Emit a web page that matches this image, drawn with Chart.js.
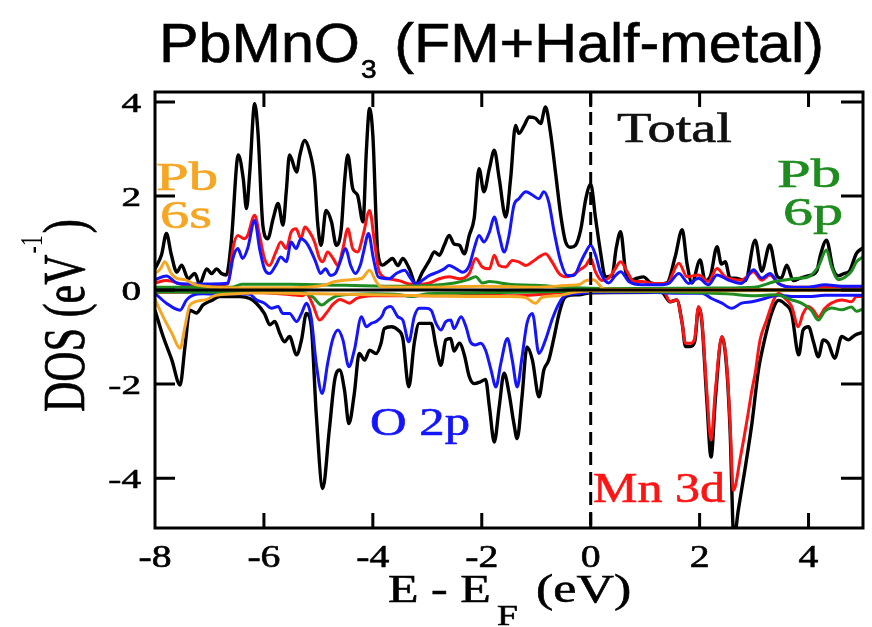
<!DOCTYPE html>
<html><head><meta charset="utf-8">
<script src="https://cdn.jsdelivr.net/npm/chart.js@4.4.1/dist/chart.umd.min.js"></script>
<style>html,body{margin:0;padding:0;background:#fff;}canvas{display:block;}</style>
</head><body>
<canvas id="c" width="872" height="627"></canvas>
<script>
// ---- tick values / labels ----
const xTickValues = [-8,-6,-4,-2,0,2,4];
const yTickValues = [-4,-2,0,2,4];
const xTickLabels = ['-8','-6','-4','-2','0','2','4'];
const yTickLabels = ['-4','-2','0','2','4'];

// ---- series: [E - E_F (eV), DOS (1/eV)] ----
const totalUp = [[-8.00,0.45],[-7.88,0.75],[-7.79,1.20],[-7.70,0.75],[-7.60,0.38],[-7.51,0.53],[-7.39,0.24],[-7.27,0.35],[-7.18,0.13],[-7.05,0.45],[-6.96,0.35],[-6.87,0.45],[-6.78,0.35],[-6.69,0.32],[-6.60,1.02],[-6.47,2.87],[-6.38,2.37],[-6.32,1.73],[-6.26,2.50],[-6.17,3.96],[-6.11,3.36],[-6.02,1.38],[-5.93,1.09],[-5.83,1.52],[-5.74,1.84],[-5.65,1.38],[-5.59,2.09],[-5.53,2.87],[-5.40,2.51],[-5.34,2.87],[-5.25,3.18],[-5.16,2.94],[-5.07,2.37],[-5.01,1.38],[-4.95,0.95],[-4.86,1.69],[-4.76,1.45],[-4.67,0.95],[-4.58,1.30],[-4.52,2.30],[-4.46,2.87],[-4.37,2.16],[-4.28,2.01],[-4.18,1.45],[-4.12,2.94],[-4.06,3.86],[-4.00,3.29],[-3.91,0.81],[-3.82,0.53],[-3.73,0.60],[-3.64,0.67],[-3.54,0.52],[-3.45,0.67],[-3.33,0.45],[-3.21,0.13],[-3.09,0.38],[-2.96,0.63],[-2.87,0.81],[-2.78,0.74],[-2.69,0.95],[-2.60,1.16],[-2.51,0.98],[-2.41,0.95],[-2.32,0.77],[-2.23,1.16],[-2.14,1.52],[-2.05,2.58],[-1.96,2.09],[-1.86,2.58],[-1.77,2.97],[-1.68,2.37],[-1.56,1.55],[-1.47,2.37],[-1.38,3.50],[-1.32,3.33],[-1.22,3.50],[-1.13,3.68],[-1.01,3.65],[-0.92,3.54],[-0.83,3.89],[-0.74,3.36],[-0.64,2.44],[-0.55,1.59],[-0.46,1.02],[-0.37,0.91],[-0.28,0.95],[-0.18,1.30],[-0.09,1.94],[0.00,2.25],[0.09,1.52],[0.18,0.81],[0.27,0.28],[0.39,0.30],[0.47,0.90],[0.55,1.24],[0.64,0.40],[0.72,0.20],[0.85,0.25],[0.97,0.28],[1.10,0.15],[1.25,0.13],[1.40,0.15],[1.55,0.70],[1.68,1.28],[1.77,0.55],[1.86,0.15],[2.01,0.64],[2.10,0.20],[2.20,0.30],[2.32,0.92],[2.40,0.55],[2.47,0.60],[2.56,0.25],[2.65,0.25],[2.84,0.20],[3.02,1.06],[3.14,0.40],[3.29,0.96],[3.42,0.30],[3.50,0.25],[3.60,0.53],[3.72,0.20],[3.85,0.25],[3.99,0.30],[4.15,0.40],[4.22,0.75],[4.33,1.06],[4.45,0.45],[4.55,0.30],[4.65,0.35],[4.75,0.40],[4.88,0.78],[5.00,0.90]];
const totalDn = [[-8.00,-0.43],[-7.85,-0.99],[-7.69,-1.49],[-7.54,-2.02],[-7.45,-1.21],[-7.36,-0.43],[-7.24,-0.49],[-7.12,-0.32],[-6.96,-0.22],[-6.81,-0.14],[-6.63,-0.14],[-6.44,-0.14],[-6.26,-0.18],[-6.14,-0.28],[-5.99,-0.50],[-5.89,-0.74],[-5.80,-0.67],[-5.71,-0.92],[-5.62,-1.10],[-5.53,-0.99],[-5.40,-1.38],[-5.31,-1.06],[-5.22,-0.50],[-5.13,-0.78],[-5.04,-2.62],[-4.92,-4.22],[-4.80,-2.98],[-4.70,-1.91],[-4.61,-1.70],[-4.52,-2.13],[-4.44,-2.84],[-4.34,-2.20],[-4.25,-1.35],[-4.15,-1.49],[-4.06,-1.28],[-3.94,-1.35],[-3.85,-1.13],[-3.79,-0.82],[-3.66,-0.78],[-3.54,-0.85],[-3.45,-1.03],[-3.34,-2.06],[-3.24,-1.13],[-3.15,-0.71],[-3.03,-0.71],[-2.93,-0.71],[-2.84,-1.20],[-2.75,-1.60],[-2.66,-1.06],[-2.57,-1.03],[-2.51,-1.30],[-2.41,-1.13],[-2.32,-1.38],[-2.23,-1.84],[-2.14,-1.99],[-2.02,-1.95],[-1.93,-1.90],[-1.86,-2.48],[-1.77,-3.23],[-1.68,-2.48],[-1.59,-1.77],[-1.50,-2.19],[-1.41,-2.84],[-1.35,-3.16],[-1.26,-2.26],[-1.17,-1.21],[-1.07,-1.49],[-0.95,-2.27],[-0.86,-1.70],[-0.77,-1.49],[-0.67,-0.99],[-0.58,-0.50],[-0.49,-0.18],[-0.37,-0.11],[-0.22,-0.10],[0.00,-0.06],[1.30,-0.05],[1.46,-0.25],[1.58,-0.21],[1.68,-0.71],[1.74,-1.20],[1.83,-1.20],[1.91,-1.10],[1.98,-0.38],[2.04,-0.66],[2.13,-2.30],[2.21,-3.55],[2.29,-2.30],[2.41,-1.00],[2.50,-1.70],[2.56,-3.00],[2.63,-5.30],[2.71,-4.68],[2.84,-3.76],[2.96,-2.84],[3.08,-1.70],[3.15,-1.28],[3.32,-0.50],[3.45,-0.22],[3.57,-0.30],[3.69,-0.50],[3.82,-1.38],[3.90,-0.85],[4.00,-0.78],[4.09,-1.10],[4.18,-1.42],[4.27,-1.06],[4.36,-1.13],[4.48,-1.45],[4.61,-0.99],[4.73,-1.06],[4.85,-0.96],[5.00,-0.90]];
const o2pUp = [[-8.00,0.22],[-7.79,0.30],[-7.60,0.15],[-7.40,0.13],[-7.18,0.13],[-6.96,0.13],[-6.66,0.15],[-6.57,0.67],[-6.48,0.88],[-6.39,0.67],[-6.30,0.88],[-6.17,1.48],[-6.08,0.88],[-5.99,0.45],[-5.90,0.35],[-5.78,0.53],[-5.69,0.70],[-5.59,0.60],[-5.50,1.02],[-5.41,0.88],[-5.32,1.09],[-5.23,1.02],[-5.14,0.84],[-5.05,0.60],[-4.96,0.35],[-4.87,0.45],[-4.78,0.31],[-4.69,0.35],[-4.60,0.60],[-4.50,0.88],[-4.41,0.53],[-4.32,0.35],[-4.23,0.53],[-4.17,0.81],[-4.08,1.20],[-3.99,0.67],[-3.90,0.28],[-3.70,0.24],[-3.57,0.35],[-3.42,0.42],[-3.30,0.24],[-3.21,0.12],[-3.09,0.21],[-2.96,0.31],[-2.81,0.38],[-2.69,0.45],[-2.60,0.52],[-2.47,0.45],[-2.35,0.38],[-2.23,0.52],[-2.14,0.88],[-2.05,1.16],[-1.96,1.02],[-1.86,1.23],[-1.77,1.55],[-1.68,1.16],[-1.59,0.81],[-1.50,1.16],[-1.41,1.80],[-1.32,1.94],[-1.19,2.09],[-1.07,2.02],[-0.95,1.94],[-0.86,2.09],[-0.77,1.87],[-0.67,1.23],[-0.55,0.60],[-0.43,0.31],[-0.31,0.31],[-0.18,0.60],[-0.09,0.81],[0.00,0.95],[0.09,0.74],[0.18,0.38],[0.33,0.15],[0.45,0.30],[0.55,0.39],[0.70,0.18],[0.94,0.11],[1.25,0.11],[1.43,0.14],[1.62,0.35],[1.80,0.14],[1.98,0.25],[2.16,0.11],[2.32,0.32],[2.53,0.21],[2.77,0.14],[2.99,0.43],[3.14,0.25],[3.29,0.35],[3.45,0.14],[3.69,0.06],[4.00,0.06],[4.30,0.11],[4.61,0.08],[5.00,0.08]];
const o2pDn = [[-8.00,-0.07],[-7.79,-0.28],[-7.54,-0.43],[-7.42,-0.21],[-7.30,-0.11],[-7.12,-0.08],[-6.87,-0.09],[-6.50,-0.08],[-6.26,-0.09],[-6.14,-0.21],[-5.99,-0.28],[-5.86,-0.39],[-5.74,-0.35],[-5.65,-0.50],[-5.53,-0.50],[-5.40,-0.67],[-5.31,-0.50],[-5.22,-0.28],[-5.13,-0.60],[-5.04,-1.56],[-4.93,-2.20],[-4.83,-1.56],[-4.74,-1.06],[-4.64,-0.85],[-4.55,-1.06],[-4.44,-1.63],[-4.34,-1.28],[-4.21,-0.57],[-4.12,-0.78],[-4.03,-0.71],[-3.94,-0.67],[-3.82,-0.53],[-3.79,-0.43],[-3.67,-0.35],[-3.54,-0.57],[-3.45,-0.64],[-3.34,-1.10],[-3.24,-0.57],[-3.15,-0.39],[-3.03,-0.39],[-2.93,-0.43],[-2.84,-0.71],[-2.75,-0.85],[-2.66,-0.67],[-2.57,-0.64],[-2.51,-0.82],[-2.38,-0.57],[-2.29,-0.78],[-2.21,-1.10],[-2.12,-1.17],[-2.02,-1.13],[-1.93,-1.28],[-1.83,-1.70],[-1.74,-2.06],[-1.65,-1.56],[-1.53,-1.03],[-1.44,-1.49],[-1.35,-2.06],[-1.26,-1.42],[-1.17,-0.71],[-1.07,-0.50],[-0.95,-1.35],[-0.83,-1.06],[-0.70,-0.60],[-0.58,-0.28],[-0.46,-0.11],[-0.31,-0.08],[-0.18,-0.07],[0.00,-0.05],[1.00,-0.05],[1.60,-0.07],[2.04,-0.07],[2.22,-0.18],[2.41,-0.28],[2.59,-0.39],[2.77,-0.28],[2.96,-0.25],[3.20,-0.18],[3.45,-0.11],[3.75,-0.14],[4.00,-0.14],[4.30,-0.11],[4.61,-0.11],[5.00,-0.11]];
const mn3dUp = [[-8.00,0.15],[-7.79,0.20],[-7.40,0.10],[-6.96,0.10],[-6.66,0.13],[-6.57,0.88],[-6.48,1.16],[-6.36,1.09],[-6.30,1.16],[-6.17,1.59],[-6.08,1.16],[-5.99,0.67],[-5.90,0.52],[-5.78,0.81],[-5.69,1.02],[-5.59,0.88],[-5.50,1.23],[-5.41,1.30],[-5.32,1.09],[-5.25,1.34],[-5.16,1.23],[-5.07,1.02],[-4.98,0.67],[-4.92,0.60],[-4.83,0.81],[-4.73,0.67],[-4.64,0.52],[-4.55,0.88],[-4.46,1.30],[-4.37,0.88],[-4.28,0.81],[-4.18,1.16],[-4.06,1.69],[-3.97,1.02],[-3.88,0.38],[-3.70,0.24],[-3.52,0.20],[-3.33,0.13],[-3.15,0.12],[-2.96,0.15],[-2.78,0.24],[-2.60,0.28],[-2.41,0.24],[-2.23,0.35],[-2.11,0.67],[-1.99,0.49],[-1.86,0.45],[-1.77,0.74],[-1.68,0.52],[-1.56,0.49],[-1.44,0.63],[-1.32,0.60],[-1.19,0.52],[-1.07,0.60],[-0.95,0.70],[-0.83,0.77],[-0.71,0.60],[-0.58,0.35],[-0.46,0.28],[-0.34,0.31],[-0.21,0.42],[-0.09,0.52],[0.00,0.67],[0.09,0.38],[0.21,0.20],[0.33,0.25],[0.45,0.45],[0.55,0.60],[0.67,0.39],[0.79,0.18],[0.94,0.18],[1.13,0.14],[1.40,0.14],[1.62,0.57],[1.77,0.28],[1.98,0.32],[2.16,0.18],[2.32,0.46],[2.47,0.28],[2.77,0.21],[2.99,0.39],[3.14,0.21],[3.29,0.32],[3.45,0.14],[3.75,0.06],[4.50,0.06],[5.00,0.06]];
const mn3dDn = [[-8.00,-0.05],[-7.00,-0.04],[-6.00,-0.06],[-5.50,-0.10],[-5.30,-0.12],[-5.22,-0.08],[-5.10,-0.32],[-4.98,-0.64],[-4.86,-0.50],[-4.73,-0.30],[-4.60,-0.20],[-4.43,-0.28],[-4.30,-0.18],[-4.00,-0.12],[-3.50,-0.12],[-3.00,-0.12],[-2.50,-0.12],[-2.00,-0.10],[-1.50,-0.12],[-1.00,-0.10],[-0.50,-0.05],[0.00,-0.02],[1.20,-0.02],[1.34,-0.03],[1.46,-0.25],[1.58,-0.21],[1.68,-0.71],[1.74,-1.13],[1.83,-1.13],[1.91,-1.03],[1.98,-0.35],[2.04,-0.64],[2.13,-2.13],[2.21,-3.19],[2.29,-2.13],[2.41,-0.99],[2.50,-1.63],[2.56,-2.84],[2.62,-4.26],[2.75,-3.55],[2.87,-2.77],[2.96,-2.13],[3.02,-1.77],[3.11,-1.06],[3.23,-0.64],[3.36,-0.21],[3.45,-0.07],[3.57,-0.18],[3.69,-0.35],[3.81,-0.78],[3.90,-0.50],[4.00,-0.35],[4.09,-0.43],[4.18,-0.57],[4.30,-0.39],[4.42,-0.28],[4.61,-0.21],[4.79,-0.25],[4.88,-0.14],[5.00,-0.14]];
const pb6pUp = [[-8.00,0.06],[-6.60,0.06],[-6.40,0.12],[-5.50,0.12],[-4.50,0.10],[-3.50,0.08],[-2.50,0.15],[-2.25,0.22],[-2.11,0.28],[-1.99,0.15],[-1.86,0.18],[-1.50,0.12],[-1.00,0.10],[-0.50,0.06],[0.00,0.04],[1.00,0.03],[2.00,0.04],[3.00,0.06],[3.38,0.18],[3.60,0.22],[3.82,0.25],[4.00,0.28],[4.18,0.50],[4.33,0.85],[4.42,0.50],[4.55,0.22],[4.67,0.27],[4.79,0.40],[4.88,0.60],[5.00,0.70]];
const pb6pDn = [[-8.00,-0.04],[-5.30,-0.06],[-5.10,-0.15],[-4.94,-0.32],[-4.80,-0.21],[-4.65,-0.12],[-4.00,-0.08],[-3.50,-0.10],[-3.30,-0.14],[-3.00,-0.08],[-2.00,-0.06],[-1.00,-0.04],[0.00,-0.02],[1.00,-0.03],[2.00,-0.06],[2.50,-0.08],[3.00,-0.12],[3.40,-0.10],[3.69,-0.21],[3.87,-0.28],[4.05,-0.43],[4.18,-0.64],[4.30,-0.45],[4.42,-0.38],[4.61,-0.42],[4.79,-0.36],[4.88,-0.45],[5.00,-0.40]];
const pb6sUp = [[-8.00,0.35],[-7.90,0.45],[-7.82,0.60],[-7.70,0.35],[-7.60,0.25],[-7.45,0.22],[-7.27,0.12],[-7.00,0.07],[-6.50,0.05],[-5.50,0.05],[-4.90,0.10],[-4.70,0.18],[-4.40,0.22],[-4.20,0.25],[-4.06,0.42],[-3.95,0.20],[-3.85,0.07],[-3.00,0.06],[-2.00,0.08],[-1.00,0.06],[-0.40,0.10],[-0.20,0.12],[-0.09,0.20],[0.05,0.22],[0.25,0.02],[1.00,0.01],[5.00,0.01]];
const pb6sDn = [[-8.00,-0.20],[-7.85,-0.57],[-7.69,-0.92],[-7.54,-1.24],[-7.45,-0.78],[-7.36,-0.32],[-7.08,-0.21],[-6.90,-0.12],[-6.50,-0.08],[-6.00,-0.06],[-5.00,-0.08],[-4.00,-0.10],[-3.00,-0.12],[-2.00,-0.14],[-1.50,-0.14],[-1.20,-0.16],[-1.01,-0.28],[-0.90,-0.16],[-0.60,-0.12],[-0.30,-0.05],[0.00,-0.02],[5.00,-0.01]];

const COL = {total:'#000000', o2p:'#1414ff', mn3d:'#ff1414', pb6p:'#1e8c1e', pb6s:'#f5a623'};

// first dataset is drawn on top
const seriesList = [
  {label:'Pb 6s up', pts:pb6sUp, color:COL.pb6s},
  {label:'Pb 6s dn', pts:pb6sDn, color:COL.pb6s},
  {label:'Pb 6p up', pts:pb6pUp, color:COL.pb6p},
  {label:'Pb 6p dn', pts:pb6pDn, color:COL.pb6p},
  {label:'O 2p up', pts:o2pUp, color:COL.o2p},
  {label:'O 2p dn', pts:o2pDn, color:COL.o2p},
  {label:'Mn 3d up', pts:mn3dUp, color:COL.mn3d},
  {label:'Mn 3d dn', pts:mn3dDn, color:COL.mn3d},
  {label:'Total up', pts:totalUp, color:COL.total},
  {label:'Total dn', pts:totalDn, color:COL.total}
];

function txt(ctx, s, x, y, font, color, sx, align) {
  ctx.save();
  ctx.font = font; ctx.fillStyle = color; ctx.strokeStyle = color; ctx.lineWidth = 0.6;
  ctx.textAlign = align || 'left'; ctx.textBaseline = 'alphabetic';
  ctx.translate(x, y); ctx.scale(sx, 1); ctx.fillText(s, 0, 0); ctx.strokeText(s, 0, 0);
  ctx.restore();
}
function fitTxt(ctx, s, x, y, font, color, w, align) {
  ctx.save(); ctx.font = font; const nat = ctx.measureText(s).width; ctx.restore();
  txt(ctx, s, x, y, font, color, w / nat, align);
}

const deco = {
  id: 'deco',
  afterDatasetsDraw(chart) {
    const ctx = chart.ctx, a = chart.chartArea, xs = chart.scales.x, ys = chart.scales.y;
    ctx.save();
    ctx.strokeStyle = '#000';
    // zero line
    const y0 = ys.getPixelForValue(0);
    ctx.lineWidth = 3;
    ctx.beginPath(); ctx.moveTo(a.left, y0); ctx.lineTo(a.right, y0); ctx.stroke();
    // Fermi level
    const x0 = xs.getPixelForValue(0);
    ctx.setLineDash([13, 7]);
    ctx.beginPath(); ctx.moveTo(x0, a.top); ctx.lineTo(x0, a.bottom); ctx.stroke();
    ctx.setLineDash([]);
    // frame
    ctx.lineWidth = 3;
    ctx.strokeRect(a.left, a.top, a.right - a.left, a.bottom - a.top);
    // inward ticks
    xs.ticks.forEach(t => {
      const px = xs.getPixelForValue(t.value);
      if (px < a.left + 3 || px > a.right - 3) return;
      ctx.beginPath();
      ctx.moveTo(px, a.bottom); ctx.lineTo(px, a.bottom - 15);
      ctx.moveTo(px, a.top); ctx.lineTo(px, a.top + 15);
      ctx.stroke();
    });
    ys.ticks.forEach(t => {
      const py = ys.getPixelForValue(t.value);
      ctx.beginPath();
      ctx.moveTo(a.left, py); ctx.lineTo(a.left + 20, py);
      ctx.moveTo(a.right, py); ctx.lineTo(a.right - 22, py);
      ctx.stroke();
    });
    // tick labels
    const serif = '"Liberation Serif","Times New Roman",serif';
    xs.ticks.forEach(t => {
      const px = xs.getPixelForValue(t.value);
      txt(ctx, xTickLabels[xTickValues.indexOf(t.value)], px, 567, '31px ' + serif, '#000', 1.28, 'center');
    });
    ys.ticks.forEach(t => {
      const py = ys.getPixelForValue(t.value);
      txt(ctx, yTickLabels[yTickValues.indexOf(t.value)], 141, py + 10, '28px ' + serif, '#000', 1.4, 'right');
    });
    // x-axis title: E - E_F (eV)
    txt(ctx, 'E - E', 388, 602, '40px ' + serif, '#000', 1.25, 'left');
    txt(ctx, 'F', 497, 625, '30px ' + serif, '#000', 1.25, 'left');
    txt(ctx, '(eV)', 536, 602, '40px ' + serif, '#000', 1.3, 'left');
    // y-axis title: DOS (eV^-1), rotated
    ctx.save();
    ctx.translate(84, 412); ctx.rotate(-Math.PI / 2); ctx.scale(1, 1.4);
    ctx.fillStyle = '#000'; ctx.strokeStyle = '#000'; ctx.lineWidth = 0.5;
    ctx.textBaseline = 'alphabetic'; ctx.textAlign = 'left';
    ctx.font = '42px ' + serif;
    const p1 = 'DOS (eV';
    ctx.fillText(p1, 0, 0); ctx.strokeText(p1, 0, 0);
    let w = ctx.measureText(p1).width;
    ctx.font = '22px ' + serif;
    ctx.fillText('-1', w + 1, -30);
    w += ctx.measureText('-1').width + 3;
    ctx.font = '42px ' + serif;
    ctx.fillText(')', w, 0); ctx.strokeText(')', w, 0);
    ctx.restore();
    // chart title with subscript
    const sans = '"Liberation Sans",Arial,Helvetica,sans-serif';
    ctx.save();
    ctx.font = '55px ' + sans; const wa = ctx.measureText('PbMnO').width; const wc = ctx.measureText(' (FM+Half-metal)').width;
    ctx.font = '26px ' + sans; const wb = ctx.measureText('3').width;
    ctx.restore();
    const tot = wa + wb + 2 + wc; const s = 665 / tot;
    txt(ctx, 'PbMnO', 159, 62, '55px ' + sans, '#000', s, 'left');
    txt(ctx, '3', 159 + (wa + 1) * s, 78, '26px ' + sans, '#000', s, 'left');
    txt(ctx, ' (FM+Half-metal)', 159 + (wa + wb + 2) * s, 62, '55px ' + sans, '#000', s, 'left');
    // curve annotations
    fitTxt(ctx, 'Total', 617, 142, '42px ' + serif, '#111', 115, 'left');
    fitTxt(ctx, 'Pb', 156, 190, '40px ' + serif, COL.pb6s, 62, 'left');
    fitTxt(ctx, '6s', 160, 228, '40px ' + serif, COL.pb6s, 52, 'left');
    fitTxt(ctx, 'Pb', 777, 187, '40px ' + serif, COL.pb6p, 64, 'left');
    fitTxt(ctx, '6p', 783, 225, '40px ' + serif, COL.pb6p, 60, 'left');
    fitTxt(ctx, 'O 2p', 370, 435, '40px ' + serif, COL.o2p, 100, 'left');
    fitTxt(ctx, 'Mn 3d', 593, 502, '42px ' + serif, COL.mn3d, 132, 'left');
    ctx.restore();
  }
};

new Chart(document.getElementById('c'), {
  type: 'scatter',
  data: {
    datasets: seriesList.map(sr => ({
      label: sr.label,
      data: sr.pts.map(p => ({x: p[0], y: p[1]})),
      showLine: true,
      borderColor: sr.color,
      backgroundColor: sr.color,
      borderWidth: sr.color === COL.total ? 3.4 : 3,
      pointRadius: 0,
      cubicInterpolationMode: 'monotone',
      fill: false
    }))
  },
  options: {
    responsive: false,
    devicePixelRatio: 1,
    animation: false,
    layout: {padding: {top: 92, right: 9, left: 0, bottom: 0}},
    plugins: {legend: {display: false}, tooltip: {enabled: false}, title: {display: false}},
    scales: {
      x: {
        type: 'linear', min: -8, max: 5,
        grid: {display: false}, border: {display: false},
        ticks: {display: false},
        afterBuildTicks: s => { s.ticks = xTickValues.map(v => ({value: v})); },
        afterFit: s => { s.height = 99; }
      },
      y: {
        type: 'linear', min: -5.06, max: 4.21,
        grid: {display: false}, border: {display: false},
        ticks: {display: false},
        afterBuildTicks: s => { s.ticks = yTickValues.map(v => ({value: v})); },
        afterFit: s => { s.width = 155; }
      }
    }
  },
  plugins: [deco]
});
</script>
</body></html>
